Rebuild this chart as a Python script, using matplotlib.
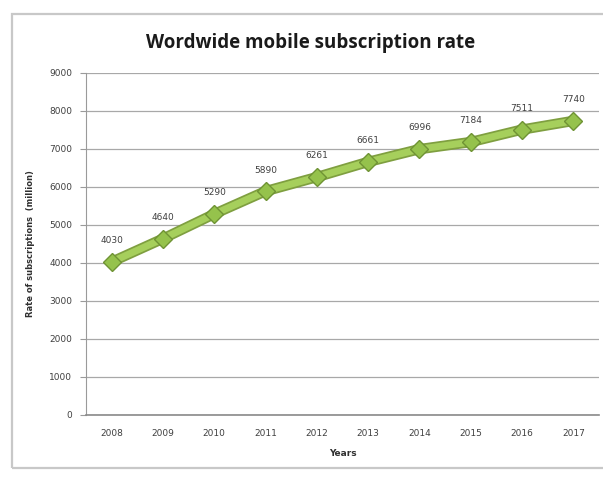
import matplotlib
matplotlib.use("Agg")
import matplotlib.pyplot as plt
from matplotlib.patches import Rectangle

years = ["2008", "2009", "2010", "2011", "2012", "2013", "2014", "2015", "2016", "2017"]
values = [4030, 4640, 5290, 5890, 6261, 6661, 6996, 7184, 7511, 7740]
y_ticks = [0, 1000, 2000, 3000, 4000, 5000, 6000, 7000, 8000, 9000]

W, H = 603, 482
fig = plt.figure(figsize=(W / 100, H / 100), dpi=100)
fig.patch.set_facecolor("white")

# chart border (screenshot frame)
fig.patches.append(Rectangle((12 / W, 14 / H), 1.2, (468 - 14) / H, transform=fig.transFigure,
                             fill=False, edgecolor="#c8c8c8", linewidth=1.6))

ax = fig.add_axes([86 / W, (H - 415) / H, (599 - 86) / W, (415 - 73) / H])
x = list(range(len(years)))
ax.plot(x, values, color="#7f9f40", linewidth=7.5, solid_capstyle="round", zorder=3)
ax.plot(x, values, color="#a6cf5c", linewidth=5, marker="D", markersize=9,
        markerfacecolor="#95c24c", markeredgecolor="#6f9334", markeredgewidth=1.0, zorder=4)

for xi, v in zip(x, values):
    ax.annotate(str(v), (xi, v), xytext=(0, 12), textcoords="offset points",
                ha="center", va="bottom", fontsize=6.5, color="#404040")

ax.set_xlim(-0.5, len(years) - 0.5)
ax.set_ylim(0, 9000)
ax.set_yticks(y_ticks)
ax.set_xticks(x)
ax.set_xticklabels(years)
ax.yaxis.grid(True, color="#a8a8a8", linewidth=0.9)
ax.set_axisbelow(True)
for s in ["top", "right"]:
    ax.spines[s].set_visible(False)
ax.spines["left"].set_color("#9a9a9a")
ax.spines["bottom"].set_color("#8a8a8a")
ax.spines["bottom"].set_linewidth(1.2)
ax.tick_params(axis="y", length=4, color="#9a9a9a", labelsize=6.5, labelcolor="#404040", pad=6)
ax.tick_params(axis="x", length=0, labelsize=6.5, labelcolor="#404040", pad=10)

ax.set_xlabel("Years", fontsize=6.5, fontweight="bold", color="#303030", labelpad=8)
ax.set_ylabel("Rate of subscriptions  (million)", fontsize=6, fontweight="bold", color="#303030", labelpad=10)

fig.text(311 / W, 1 - 43 / H, "Wordwide mobile subscription rate", ha="center", va="center",
         fontsize=13.5, fontweight="bold", family="Open Sans", color="#1a1a1a")

fig.savefig("out.png", dpi=100)
